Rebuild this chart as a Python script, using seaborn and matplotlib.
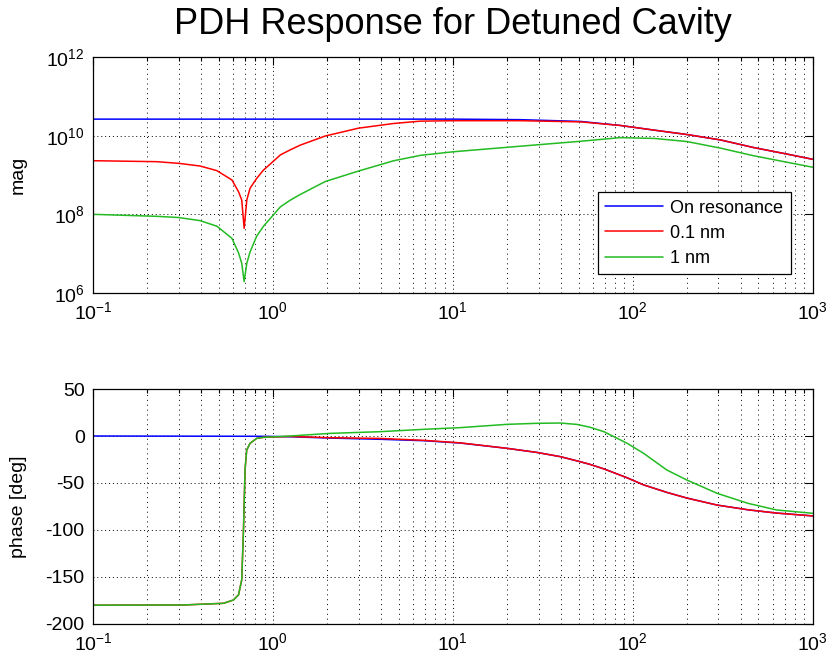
import matplotlib
matplotlib.use("Agg")
import matplotlib.pyplot as plt
import seaborn as sns
from matplotlib.ticker import FixedLocator, LogLocator, NullLocator, LogFormatterSciNotation

# Valores (respuesta PDH, cavidad desintonizada)

# Magnitud: frecuencias comunes para 0.1 nm y 1 nm
f_mag = [0.1, 0.226, 0.299, 0.394, 0.488, 0.592, 0.644, 0.671, 0.692, 0.716,
         0.746, 0.813, 0.887, 0.986, 1.10, 1.25, 1.42, 1.95, 2.99, 4.69,
         6.61, 10.1, 23.8, 51.3, 85.1, 132, 200, 309, 468, 724, 1000]
mag_01nm = [2.31e9, 2.18e9, 1.98e9, 1.69e9, 1.29e9, 7.46e8, 3.76e8, 2.31e8, 4.41e7, 2.31e8,
            4.59e8, 8.24e8, 1.34e9, 2.06e9, 3.24e9, 4.37e9, 5.75e9, 9.77e9, 1.55e10, 2.04e10,
            2.34e10, 2.40e10, 2.40e10, 2.24e10, 1.82e10, 1.38e10, 1.07e10, 7.76e9, 5.01e9, 3.39e9, 2.51e9]
mag_1nm = [1.0e8, 8.9e7, 8.3e7, 6.9e7, 5.0e7, 2.45e7, 1.05e7, 5.7e6, 1.95e6, 5.7e6,
           1.1e7, 2.8e7, 5.0e7, 8.7e7, 1.55e8, 2.3e8, 3.2e8, 6.8e8, 1.26e9, 2.3e9,
           3.16e9, 3.9e9, 5.4e9, 7.2e9, 8.9e9, 8.5e9, 7.1e9, 4.8e9, 3.1e9, 2.1e9, 1.58e9]

# Magnitud en resonancia
f_mag_res = [0.1, 10.1, 23.8, 51.3, 85.1, 132, 200, 309, 468, 724, 1000]
mag_res = [2.63e10, 2.63e10, 2.55e10, 2.3e10, 1.82e10, 1.38e10, 1.07e10, 7.76e9, 5.01e9, 3.39e9, 2.51e9]

# Fase
f_ph = [0.1, 0.316, 0.531, 0.603, 0.644, 0.671, 0.686, 0.700, 0.715, 0.746,
        0.813, 0.887, 1.25, 2.08, 3.95, 6.89, 11.0, 20.0, 29.4, 39.7,
        49.1, 57.5, 69.2, 93.3, 115, 155, 200, 295, 437, 631, 1000]
ph_01nm = [-180, -179.8, -178, -174.5, -169, -153, -100, -36, -15, -7.8,
           -2.5, -1.4, -0.5, -1.8, -2.6, -4.6, -7.3, -13.1, -17.5, -22,
           -26.5, -30, -35, -44.5, -52, -60, -66, -73.5, -78.5, -82, -85]
ph_1nm = [-180, -179.8, -178, -174.5, -169, -153, -100, -36, -15, -7.8,
          -2.5, -1.4, 0, 2.8, 4.6, 7.1, 8.9, 12.4, 13.5, 13.8,
          12.3, 9.5, 4.6, -7.8, -18.4, -36.2, -46.8, -61, -71.6, -78.7, -82.2]

f_ph_res = [0.1, 0.887, 1.25, 2.08, 3.95, 6.89, 11.0, 20.0, 29.4, 39.7,
            49.1, 57.5, 69.2, 93.3, 115, 155, 200, 295, 437, 631, 1000]
ph_res = [0, -0.3, -0.8, -2.2, -3.5, -5.0, -7.5, -13.1, -17.5, -22,
          -26.5, -30, -35, -44.5, -52, -60, -66, -73.5, -78.5, -82, -85]

labels = ["On resonance", "0.1 nm", "1 nm"]
colores = ["#0000ff", "#ff0000", "#22bb22"]

sns.set_style("white")
plt.rcParams["font.family"] = ["Liberation Sans", "DejaVu Sans"]
plt.rcParams["mathtext.fontset"] = "custom"
plt.rcParams["mathtext.rm"] = "Liberation Sans"
plt.rcParams["axes.unicode_minus"] = False
for clave in ["text.color", "axes.labelcolor", "xtick.color", "ytick.color"]:
    plt.rcParams[clave] = "black"

fig = plt.figure(figsize=(8.27, 6.58), dpi=100)
ax1 = fig.add_axes([0.1125, 0.5547, 0.870, 0.3587])
ax2 = fig.add_axes([0.1125, 0.0517, 0.870, 0.3571])

# Grafico de magnitud
sns.lineplot(x=f_mag_res, y=mag_res, ax=ax1, color=colores[0], lw=1.1, label=labels[0])
sns.lineplot(x=f_mag, y=mag_01nm, ax=ax1, color=colores[1], lw=1.1, label=labels[1])
sns.lineplot(x=f_mag, y=mag_1nm, ax=ax1, color=colores[2], lw=1.1, label=labels[2])
ax1.set_xscale("log")
ax1.set_yscale("log")
ax1.set_ylim(1e6, 1e12)
ax1.yaxis.set_major_locator(FixedLocator([1e6, 1e8, 1e10, 1e12]))
ax1.yaxis.set_major_formatter(LogFormatterSciNotation())
ax1.yaxis.set_minor_locator(NullLocator())
ax1.set_ylabel("mag", fontsize=14)
ax1.yaxis.set_label_coords(-0.092, 0.5)

# Grafico de fase
sns.lineplot(x=f_ph_res, y=ph_res, ax=ax2, color=colores[0], lw=1.1, legend=False)
sns.lineplot(x=f_ph, y=ph_01nm, ax=ax2, color=colores[1], lw=1.1, legend=False)
sns.lineplot(x=f_ph, y=ph_1nm, ax=ax2, color=colores[2], lw=1.1, legend=False)
ax2.set_xscale("log")
ax2.set_ylim(-200, 50)
ax2.set_yticks([-200, -150, -100, -50, 0, 50])
ax2.set_ylabel("phase [deg]", fontsize=14)
ax2.yaxis.set_label_coords(-0.092, 0.5)

for ax in (ax1, ax2):
    ax.set_xlim(0.1, 1000)
    ax.xaxis.set_major_locator(LogLocator(base=10, numticks=10))
    ax.xaxis.set_minor_locator(LogLocator(base=10, subs=range(2, 10), numticks=20))
    ax.xaxis.set_major_formatter(LogFormatterSciNotation())
    ax.set_xlabel("")
    ax.grid(True, which="major", axis="both", color="k", ls=(0, (1, 3)), lw=0.7)
    ax.grid(True, which="minor", axis="x", color="k", ls=(0, (1, 4)), lw=0.7)
    ax.tick_params(which="both", direction="in", top=True, right=True,
                   labelsize=14, width=0.8, color="k")
    ax.tick_params(which="major", length=6, pad=6)
    ax.tick_params(which="minor", length=3)
    for s in ax.spines.values():
        s.set_color("k")
        s.set_linewidth(0.9)

leg = ax1.legend(loc="lower right", bbox_to_anchor=(0.982, 0.042), fontsize=13,
                 frameon=True, fancybox=False, framealpha=1, edgecolor="k",
                 handlelength=3.2, handletextpad=0.4, borderpad=0.4, labelspacing=0.45)
leg.get_frame().set_linewidth(0.9)

fig.text(0.5475, 1 - 25 / 658, "PDH Response for Detuned Cavity",
         ha="center", va="center", fontsize=26, color="black")

fig.savefig("out.png", dpi=100, facecolor="white")
